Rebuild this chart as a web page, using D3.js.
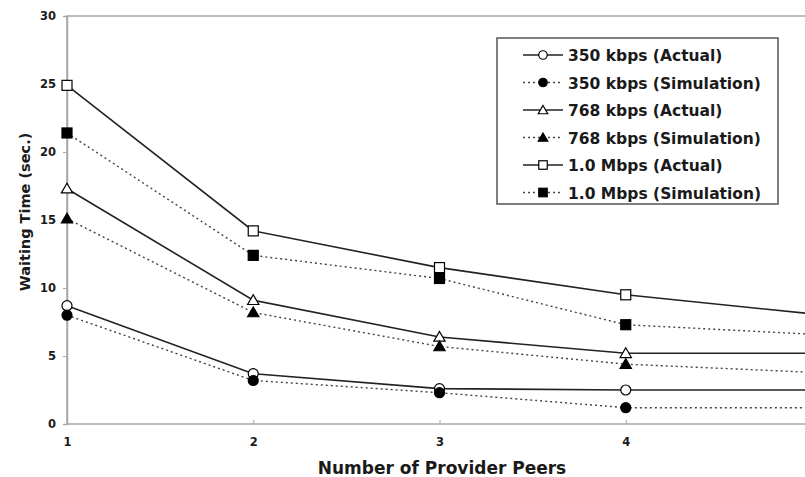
<!DOCTYPE html>
<html>
<head>
<meta charset="utf-8">
<script src="https://cdn.jsdelivr.net/npm/d3@7"></script>
<style>
  body { margin: 0; background: #fff; }
  svg { display: block; overflow: hidden; }
  text { font-family: "DejaVu Sans", Verdana, sans-serif; font-weight: bold; fill: #1a1a1a; }
</style>
</head>
<body>
<div id="main"></div>
<script>
// number of provider peers (x)
const peers = [1, 2, 3, 4, 5];
const yTicks = [0, 5, 10, 15, 20, 25, 30];
const xTicks = [1, 2, 3, 4];

// waiting time (sec.) per series
const kbps350Actual = [8.7, 3.7, 2.6, 2.5, 2.5];
const kbps350Sim    = [8.0, 3.2, 2.3, 1.2, 1.2];
const kbps768Actual = [17.3, 9.1, 6.4, 5.2, 5.2];
const kbps768Sim    = [15.1, 8.2, 5.7, 4.4, 3.8];
const mbps10Actual  = [24.9, 14.2, 11.5, 9.5, 8.1];
const mbps10Sim     = [21.4, 12.4, 10.7, 7.3, 6.6];

const seriesNames = ['350 kbps (Actual)', '350 kbps (Simulation)', '768 kbps (Actual)',
                     '768 kbps (Simulation)', '1.0 Mbps (Actual)', '1.0 Mbps (Simulation)'];
const seriesVals = [kbps350Actual, kbps350Sim, kbps768Actual, kbps768Sim, mbps10Actual, mbps10Sim];
const markers = ['circle', 'circle', 'triangle', 'triangle', 'square', 'square'];

const series = seriesNames.map((n, i) => ({
    name: n,
    vals: seriesVals[i],
    shape: markers[i],
    sim: i % 2 === 1
}));

const w = 805, h = 477;
const padL = 67, padT = 16, padB = 424;
const xRight = 812;   // x = 5 sits just past the right edge

const x = d3.scaleLinear().domain([1, 5]).range([padL, xRight]);
const y = d3.scaleLinear().domain([0, 30]).range([padB, padT]);

const svg = d3.select('#main').append('svg')
    .attr('width', w)
    .attr('height', h);

// plot frame
svg.append('rect')
    .attr('x', padL).attr('y', padT)
    .attr('width', xRight - padL).attr('height', padB - padT)
    .attr('fill', 'none').attr('stroke', '#a8a8a8').attr('stroke-width', 1.5);

// y axis
const yAxis = svg.append('g')
    .attr('transform', 'translate(' + padL + ',0)')
    .call(d3.axisLeft(y).tickValues(yTicks).tickSize(4).tickPadding(7).tickFormat(d3.format('d')));
yAxis.select('.domain').attr('stroke', '#a8a8a8').attr('stroke-width', 1.5);
yAxis.selectAll('.tick line').attr('stroke', '#a8a8a8');
yAxis.selectAll('.tick text')
    .style('font-size', '11.5px').attr('fill', '#1a1a1a');

// x axis
const xAxis = svg.append('g')
    .attr('transform', 'translate(0,' + padB + ')')
    .call(d3.axisBottom(x).tickValues(xTicks).tickSize(-4).tickPadding(14).tickFormat(d3.format('d')));
xAxis.select('.domain').remove();
xAxis.selectAll('.tick line').attr('stroke', '#a8a8a8');
xAxis.selectAll('.tick text')
    .style('font-size', '11.5px').attr('fill', '#1a1a1a');

// axis titles
svg.append('text')
    .attr('transform', 'translate(30,212) rotate(-90)')
    .attr('text-anchor', 'middle')
    .style('font-size', '14.5px')
    .text('Waiting Time (sec.)');

svg.append('text')
    .attr('x', 442).attr('y', 474)
    .attr('text-anchor', 'middle')
    .style('font-size', '17px')
    .text('Number of Provider Peers');

// marker drawing
const drawMarker = (g, shape, filled, cx, cy, k) => {
    const fill = filled ? '#000' : '#fff';
    if (shape === 'circle') {
        g.append('circle').attr('cx', cx).attr('cy', cy).attr('r', 5 * k)
            .attr('fill', fill).attr('stroke', '#000').attr('stroke-width', 1.2);
    } else if (shape === 'square') {
        g.append('rect').attr('x', cx - 5 * k).attr('y', cy - 5 * k)
            .attr('width', 10 * k).attr('height', 10 * k)
            .attr('fill', fill).attr('stroke', '#000').attr('stroke-width', 1.2);
    } else {
        g.append('path')
            .attr('d', d3.symbol().type(d3.symbolTriangle).size(55 * k * k)())
            .attr('transform', 'translate(' + cx + ',' + (cy + 1) + ')')
            .attr('fill', fill).attr('stroke', '#000').attr('stroke-width', 1.2);
    }
};

const line = d3.line().x((d, i) => x(peers[i])).y(d => y(d));

const plot = svg.append('g');
series.forEach(s => {
    plot.append('path')
        .attr('d', line(s.vals))
        .attr('fill', 'none')
        .attr('stroke', s.sim ? '#444' : '#222')
        .attr('stroke-width', s.sim ? 1.4 : 1.6)
        .attr('stroke-dasharray', s.sim ? '2,3' : null);
});
series.forEach(s => {
    s.vals.forEach((v, i) => drawMarker(plot, s.shape, s.sim, x(peers[i]), y(v), 1));
});

// legend
const lg = svg.append('g').attr('transform', 'translate(497,38)');
lg.append('rect')
    .attr('width', 281).attr('height', 166)
    .attr('fill', '#fff').attr('stroke', '#555').attr('stroke-width', 1.5);

series.forEach((s, i) => {
    const ry = 17 + i * 27.5;
    lg.append('line')
        .attr('x1', 26).attr('x2', 66).attr('y1', ry).attr('y2', ry)
        .attr('stroke', s.sim ? '#444' : '#222')
        .attr('stroke-width', s.sim ? 1.4 : 1.6)
        .attr('stroke-dasharray', s.sim ? '2,3' : null);
    drawMarker(lg, s.shape, s.sim, 46, ry, 0.85);
    lg.append('text')
        .attr('x', 71).attr('y', ry + 6)
        .style('font-size', '15.5px')
        .text(s.name);
});
</script>
</body>
</html>
